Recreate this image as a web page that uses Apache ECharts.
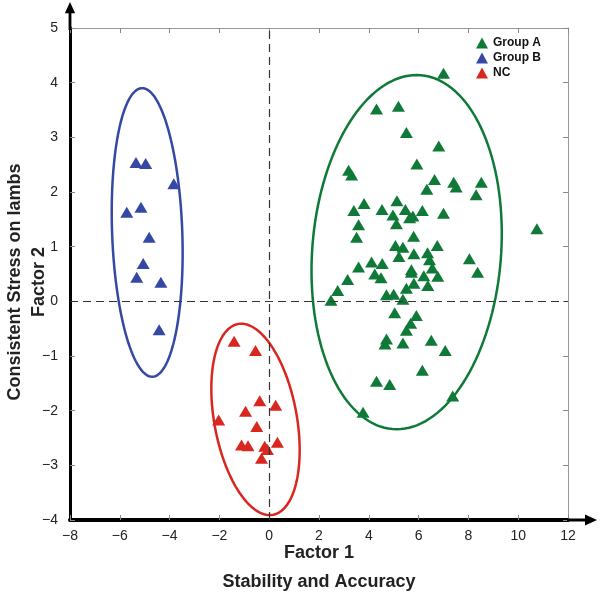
<!DOCTYPE html>
<html>
<head>
<meta charset="utf-8">
<script src="https://cdn.jsdelivr.net/npm/echarts@6/dist/echarts.min.js"></script>
<style>html,body{margin:0;padding:0;background:#fff;}#c{width:600px;height:596px;}</style>
</head>
<body>
<div id="c"></div>
<script>
// ---- data ----
const groupA = [[7.00,4.17],[4.31,3.52],[5.19,3.57],[5.51,3.09],[6.81,2.84],[5.93,2.51],[3.19,2.40],[3.31,2.31],[6.64,2.23],[7.41,2.18],[7.51,2.09],[8.52,2.18],[6.33,2.05],[8.31,1.95],[3.81,1.79],[3.40,1.66],[4.53,1.68],[5.13,1.84],[5.47,1.68],[6.15,1.66],[7.00,1.61],[4.97,1.58],[5.77,1.56],[5.64,1.53],[5.11,1.42],[3.59,1.40],[10.75,1.33],[5.80,1.19],[3.51,1.17],[5.07,1.02],[5.37,0.99],[6.75,1.02],[6.36,0.89],[5.81,0.87],[5.21,0.82],[8.04,0.78],[4.11,0.72],[4.54,0.69],[6.44,0.76],[3.59,0.63],[5.71,0.58],[6.55,0.61],[8.37,0.53],[4.24,0.50],[4.49,0.43],[5.71,0.53],[6.21,0.47],[6.77,0.46],[3.15,0.40],[5.81,0.33],[5.51,0.24],[6.37,0.29],[2.75,0.20],[2.48,0.02],[4.71,0.12],[5.00,0.13],[5.37,0.04],[5.04,-0.21],[5.91,-0.26],[5.68,-0.40],[5.51,-0.53],[4.71,-0.69],[4.65,-0.78],[5.37,-0.76],[6.51,-0.71],[7.07,-0.90],[6.15,-1.26],[4.31,-1.46],[4.84,-1.52],[7.37,-1.73],[3.77,-2.03]];
const groupB = [[-5.35,2.54],[-4.96,2.52],[-3.83,2.15],[-5.72,1.63],[-5.15,1.72],[-4.82,1.17],[-5.06,0.69],[-5.32,0.44],[-4.35,0.35],[-4.42,-0.52]];
const groupNC = [[-1.41,-0.73],[-0.55,-0.90],[-0.38,-1.82],[0.26,-1.90],[-0.95,-2.01],[-2.03,-2.17],[-0.50,-2.29],[-1.11,-2.63],[-0.85,-2.64],[0.33,-2.58],[-0.07,-2.71],[-0.18,-2.65],[-0.31,-2.87]];
// ellipse: [centerX, centerY, axisU_x, axisU_y, axisV_x, axisV_y]
const ellipseA = [5.52, 0.90, 0.40, 3.24, 3.80, 0];
const ellipseB = [-4.90, 1.26, -0.20, 2.64, 1.41, 0];
const ellipseNC = [-0.55, -2.16, -0.57, 1.75, 1.68, 0];
const seriesNames = ['Group A', 'Group B', 'NC'];
const xRange = {min: -8, max: 12, interval: 2};
const yRange = {min: -4, max: 5, interval: 1};
const xTitle = 'Factor 1\nStability and Accuracy';
const yTitle = 'Consistent Stress on lambs\nFactor 2';

const colA = '#0f7a37', colB = '#3548a3', colNC = '#d9261f';
const font = '"Liberation Sans", Arial, Helvetica, sans-serif';
const minus = v => String(v).replace('-', '\u2212');
const arrow = 'path://M5.5,0 L11,12 L7,12 L7,30 L4,30 L4,12 L0,12 Z';

function ellipseSeries(name, e, color) {
  return {
    type: 'custom', name: name, data: [e], silent: true, z: 3,
    encode: {x: 0, y: 1},
    renderItem: function (params, api) {
      const cx = api.value(0), cy = api.value(1), ux = api.value(2), uy = api.value(3), vx = api.value(4), vy = api.value(5);
      const pts = [];
      for (let i = 0; i < 144; i++) {
        const t = i / 144 * Math.PI * 2;
        pts.push(api.coord([cx + ux * Math.sin(t) + vx * Math.cos(t), cy + uy * Math.sin(t) + vy * Math.cos(t)]));
      }
      return {type: 'polygon', shape: {points: pts}, style: {fill: 'none', stroke: color, lineWidth: 2.5}};
    }
  };
}

const chart = echarts.init(document.getElementById('c'), null, {renderer: 'canvas'});
chart.setOption({
  animation: false,
  backgroundColor: '#fff',
  textStyle: {fontFamily: font},
  grid: {left: 70, right: 32, top: 28, bottom: 76, containLabel: false, outerBoundsMode: 'none'},
  legend: {
    data: seriesNames, orient: 'vertical', left: 471, top: 32,
    itemWidth: 12, itemHeight: 11, itemGap: 3, icon: 'triangle',
    textStyle: {fontFamily: font, fontWeight: 'bold', fontSize: 12, color: '#111'}
  },
  xAxis: [{
    type: 'value', min: xRange.min, max: xRange.max, interval: xRange.interval,
    splitLine: {show: false},
    axisLine: {onZero: false, lineStyle: {color: '#000', width: 4}, symbol: ['none', arrow], symbolSize: [12, 30], symbolOffset: [0, 14]},
    axisTick: {inside: true, length: 5, lineStyle: {color: '#888', width: 1}},
    axisLabel: {formatter: minus, fontSize: 14, color: '#222', margin: 9, fontFamily: font},
    name: xTitle, nameLocation: 'middle', nameGap: 19, nameMoveOverlap: false,
    nameTextStyle: {fontFamily: font, fontWeight: 'bold', fontSize: 18, color: '#222', lineHeight: 29}
  }, {
    type: 'value', position: 'top', min: xRange.min, max: xRange.max, interval: xRange.interval,
    splitLine: {show: false},
    axisLine: {onZero: false, lineStyle: {color: '#999', width: 1}},
    axisTick: {inside: true, length: 5, lineStyle: {color: '#888'}},
    axisLabel: {show: false}
  }],
  yAxis: [{
    type: 'value', min: yRange.min, max: yRange.max, interval: yRange.interval,
    splitLine: {show: false},
    axisLine: {onZero: false, lineStyle: {color: '#000', width: 3}, symbol: ['none', arrow], symbolSize: [11, 28], symbolOffset: [0, 12]},
    axisTick: {inside: true, length: 5, lineStyle: {color: '#888', width: 1}},
    axisLabel: {formatter: minus, fontSize: 14, color: '#222', margin: 12, fontFamily: font},
    name: yTitle, nameLocation: 'middle', nameGap: 19, nameRotate: 90, nameMoveOverlap: false,
    nameTextStyle: {fontFamily: font, fontWeight: 'bold', fontSize: 18, color: '#222', lineHeight: 24, padding: [0, 16, 0, 0]}
  }, {
    type: 'value', position: 'right', min: yRange.min, max: yRange.max, interval: yRange.interval,
    splitLine: {show: false},
    axisLine: {onZero: false, lineStyle: {color: '#999', width: 1}},
    axisTick: {inside: true, length: 5, lineStyle: {color: '#888'}},
    axisLabel: {show: false}
  }],
  series: [
    ellipseSeries('Group A ellipse', ellipseA, colA),
    ellipseSeries('Group B ellipse', ellipseB, colB),
    ellipseSeries('NC ellipse', ellipseNC, colNC),
    {
      name: seriesNames[0], type: 'scatter', data: groupA, symbol: 'triangle', symbolSize: [13, 11],
      itemStyle: {color: colA, opacity: 1}, z: 4
    },
    {
      name: seriesNames[1], type: 'scatter', data: groupB, symbol: 'triangle', symbolSize: [13, 11],
      itemStyle: {color: colB, opacity: 1}, z: 4,
      markLine: {
        silent: true, symbol: 'none', label: {show: false},
        lineStyle: {color: '#333', type: [8, 5], width: 1.2},
        data: [{xAxis: 0}, {yAxis: 0}]
      }
    },
    {
      name: seriesNames[2], type: 'scatter', data: groupNC, symbol: 'triangle', symbolSize: [13, 11],
      itemStyle: {color: colNC, opacity: 1}, z: 4
    }
  ]
});
</script>
</body>
</html>
